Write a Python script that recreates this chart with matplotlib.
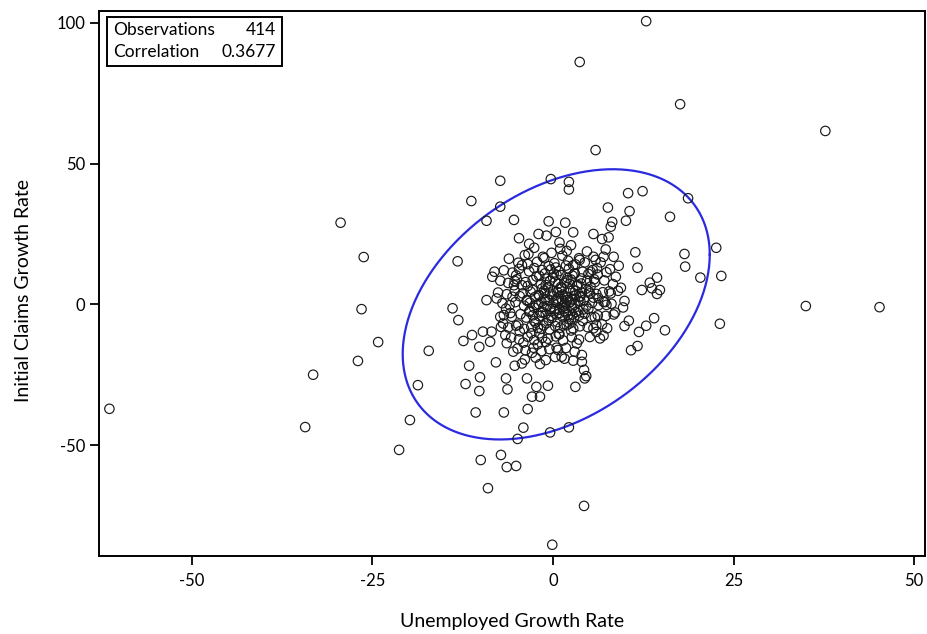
import numpy as np
import matplotlib
matplotlib.use("Agg")
import matplotlib.pyplot as plt

# outlying points and the visible edge of the cloud (unemployed, initial claims)
edge_x = [-61.4, -34.3, -33.2, -29.4, -26.2, -26.5, -24.2, -27.0, -21.3, -19.8,
          -18.7, -17.2, -13.2, -11.3, -7.3, 3.7, 12.9, 5.9, 17.6, 37.7,
          35.0, 45.2, 23.1, 23.3, 22.6, 20.4, 18.7, 4.3, -0.1, -9.0,
          -10.0, -7.2, -6.4, -5.1]
edge_y = [-37.1, -43.6, -25.0, 29.0, 16.8, -1.7, -13.4, -20.1, -51.7, -41.1,
          -28.7, -16.5, 15.3, 36.7, 43.9, 86.1, 100.6, 54.8, 71.1, 61.6,
          -0.6, -1.0, -6.9, 10.1, 20.1, 9.5, 37.7, -71.6, -85.4, -65.3,
          -55.3, -53.5, -57.8, -57.4]

upper_x = [-0.3, 2.2, 2.2, -7.3, -9.2, -5.4, -0.6, 1.7, -4.7, -2.0, -0.9, 0.4,
           2.8, 1.0, -2.6, -3.4, -8.1, -8.4,
           10.4, 12.4, 7.6, 10.6, 10.1, 16.2, 8.2, 8.0, 5.6, 7.7, 6.8, 11.4,
           18.2, 18.3, 11.7, 14.4, 13.4, 12.3, 13.7, 14.8, 14.4, 9.1, 8.4,
           5.6, 7.0]
upper_y = [44.5, 43.5, 40.8, 34.7, 29.7, 30.0, 29.5, 29.0, 23.5, 25.0, 24.4, 25.7,
           25.6, 19.7, 20.1, 17.9, 11.6, 9.8,
           39.5, 40.2, 34.4, 33.1, 29.7, 31.1, 29.3, 27.6, 25.0, 23.8, 23.2, 18.5,
           17.9, 13.4, 13.0, 9.5, 7.7, 5.1, 5.7, 5.1, 3.7, 13.7, 16.9,
           16.9, 16.9]

lower_x = [15.5, 14.0, 12.9, 11.9, 11.7, 10.8, 9.9, 10.5, 9.7, 9.9, 7.0, 5.6,
           7.4, 7.0, 4.0, 4.0, 4.3, 4.6, 4.4, 3.1, 2.2,
           -13.9, -13.1, -11.2, -12.4, -9.7, -8.5, -10.2, -8.7, -11.6, -10.1,
           -12.1, -10.2, -7.9, -6.5, -6.3, -10.7, -6.8, -5.3, -4.3, -3.6, -3.5,
           -2.3, -1.8, -2.9, -0.7, -1.8, -4.1, -4.9, -0.4, -9.2, -7.8, -6.6,
           -6.4, -5.5, -7.3, -6.9]
lower_y = [-9.2, -4.9, -7.6, -9.8, -14.8, -16.3, -7.7, -5.8, -1.1, 1.2, -11.1, -8.5,
           -0.2, 0.9, -18.0, -20.4, -23.3, -25.5, -26.3, -29.3, -43.7,
           -1.4, -5.6, -10.9, -13.0, -9.7, -9.7, -15.1, -13.3, -21.8, -25.9,
           -28.3, -30.8, -20.6, -26.3, -30.2, -38.4, -38.4, -21.8, -21.0, -26.3, -37.2,
           -29.3, -32.8, -32.8, -28.9, -21.2, -43.8, -47.8, -45.5, 1.5, 2.1, -10.9,
           -13.8, -16.8, -4.4, -6.8]

# dense centre of the cloud (rough reading)
core_x = [-6.1, -4.8, -3.9, -2.2, -1.4, 0.2, 1.3, 2.1, 3.6, 4.4, 5.9, -4.3, -0.6, 1.8, 3.1,
          -6.8, -5.6, -4.7, -3.3, -2.6, -1.1, -0.3, 0.8, 2.2, 3.0, 4.1, 5.5, 6.2, 7.4, -5.1,
          -1.9, 0.5, 2.7, 4.9, 6.1,
          -7.3, -6.2, -5.0, -3.8, -2.8, -1.7, -0.9, 0.3, 1.6, 2.5, 3.9, 4.7, 5.8, 7.1, 8.3,
          -5.4, -3.5, -1.0, 1.1, 3.3, 5.2, 2.0, 0.0,
          -7.6, -6.4, -5.3, -4.2, -3.1, -2.0, -1.2, -0.4, 0.6, 1.4, 2.4, 3.2, 4.0, 5.0, 6.0,
          6.9, 8.0, 9.0, -4.6, -2.5, -0.1, 1.9, 3.7, 5.6, 0.9, 2.8, -1.5,
          -7.0, -6.0, -5.2, -4.0, -3.2, -2.3, -1.6, -0.8, 0.1, 0.7, 1.5, 2.3, 3.0, 3.8, 4.6,
          5.4, 6.3, 7.2, 8.1, -3.6, -1.1, 0.4, 1.2, 2.0, 2.7, 3.5, -0.4, 1.7, 4.2, -2.6, 0.9,
          -6.8, -5.7, -4.5, -3.7, -2.8, -1.9, -1.0, -0.2, 0.5, 1.3, 2.1, 2.9, 3.6, 4.4, 5.3,
          6.2, 7.3, 8.4, -3.3, -1.4, 0.2, 1.8, 3.2, -0.6, 2.5,
          -6.2, -5.1, -4.0, -3.0, -2.1, -1.3, -0.5, 0.3, 1.0, 1.9, 2.8, 3.7, 4.8, 6.0, 7.5,
          -2.4, 0.6, 2.3, -4.6,
          -5.8, -4.7, -3.5, -2.6, -1.5, -0.7, 0.4, 1.4, 2.6, 3.6, 5.1, 6.5, -1.9, 0.9,
          -4.9, -3.8, -2.7, -1.6, -0.5, 0.7, 1.8, 3.0, -2.1,
          -3.9, -2.4, -1.0, 0.3, 1.6, 2.8]
core_y = [16.2, 14.8, 17.5, 15.1, 16.9, 14.6, 17.3, 15.5, 16.4, 14.9, 15.8, 13.9, 13.6, 13.8, 14.2,
          12.1, 11.3, 12.6, 11.7, 12.9, 11.0, 12.4, 11.8, 12.7, 10.9, 11.6, 12.2, 10.6, 11.4, 10.3,
          10.1, 10.5, 10.2, 10.8, 12.9,
          8.4, 7.6, 8.9, 7.9, 8.6, 7.3, 9.1, 8.1, 7.7, 8.8, 7.4, 8.3, 7.9, 8.5, 7.2,
          6.8, 6.5, 6.9, 6.2, 6.6, 6.3, 9.4, 9.6,
          4.2, 3.6, 4.8, 3.9, 4.5, 3.4, 4.9, 3.8, 4.4, 3.5, 4.7, 3.3, 4.1, 4.6, 3.7,
          4.3, 3.9, 4.8, 2.9, 2.6, 2.8, 2.5, 2.7, 2.4, 5.4, 5.2, 5.6,
          0.4, -0.3, 0.8, -0.5, 0.6, -0.2, 0.9, -0.6, 0.3, 1.1, -0.4, 0.7, -0.1, 1.0, -0.7,
          0.5, -0.3, 0.8, 0.2, 1.6, 1.8, 1.4, 1.9, 1.5, 1.7, 1.3, -1.6, -1.3, -1.8, -1.2, -1.9,
          -3.8, -4.4, -3.5, -4.7, -3.9, -4.2, -3.4, -4.9, -3.6, -4.3, -3.7, -4.6, -4.0, -3.3, -4.5,
          -3.9, -4.1, -3.6, -2.6, -2.8, -2.4, -2.9, -2.7, -5.6, -5.4,
          -8.2, -7.6, -8.7, -7.9, -8.4, -7.5, -8.9, -7.7, -8.3, -7.4, -8.6, -7.8, -8.1, -7.3, -8.5,
          -6.5, -6.3, -6.8, -9.6,
          -11.8, -12.4, -11.5, -12.7, -11.9, -12.2, -11.4, -12.8, -11.7, -12.5, -11.6, -12.1, -10.3, -10.6,
          -15.7, -16.3, -15.4, -16.6, -15.9, -16.2, -15.5, -16.8, -14.2,
          -19.6, -18.9, -19.8, -18.7, -19.3, -20.0]

# more of the densest part, around (1, 3)
dense_x = [-2.8, -1.9, -0.7, 0.6, 1.2, 2.9, 3.4, 4.3, -1.3, 0.0,
           1.7, 2.6, 3.9, -2.3, -0.4, 1.1, 2.3, 4.6, 5.7, -3.6,
           -1.7, 0.9, 2.2, 3.5, -0.9, 1.5, -2.6, 4.9, 6.3, 5.2,
           -4.3, -3.2, 0.4, 2.8, -1.5, 3.7, 1.9, -0.2, 4.7, 6.6,
           -5.6, -5.9, -4.8, -3.0, -1.0, 0.8, 2.5, 3.3, 5.8, 6.8,
           7.8, 8.7, 7.9, 9.4, 8.6, 1.3, 0.2, -0.6, 2.0, 3.1,
           0.7, -1.1, 1.6, 2.4, -2.0, 3.8, 0.1, 1.9, -0.3, 2.7,
           4.1, -1.6, 0.5, -2.9, 1.2, -4.1, 6.0, -3.5, -5.3, 5.1,
           3.0, -1.2, 0.9, -3.3, 2.5, 7.3, -6.5, -7.2]
dense_y = [5.1, 3.2, 6.1, 2.0, 5.8, 3.0, 6.9, 1.6, -0.9, 4.6,
           0.3, -1.2, 9.2, 9.9, 8.4, 10.4, 7.2, 5.6, 8.9, 1.3,
           -2.9, -3.1, -5.3, -2.2, -6.7, -7.1, -5.9, -1.6, 2.2, 11.6,
           6.8, -2.3, 13.1, 13.9, 12.2, 15.8, 19.0, 18.3, 18.8, 14.9,
           2.7, -3.1, -7.2, -10.3, -13.4, -10.6, -9.3, -13.9, -4.6, -7.1,
           4.6, 9.8, 12.5, 5.9, -2.9, 1.2, -1.7, 1.4, 2.6, 4.8,
           7.3, 4.0, -2.4, 0.9, 0.1, 2.9, 10.9, 8.5, -4.1, -3.6,
           -5.9, -8.7, -15.4, -17.2, -18.6, -13.6, -9.8, 14.3, 8.3, 3.9,
           11.0, 16.4, 22.0, 21.5, 21.0, 19.5, -1.5, -8.0]

n_obs = 414
corr = 0.3677

# prediction ellipse
ell_cx, ell_cy = 0.45, 0.0
ell_hx, ell_hy = 21.25, 48.0

pts_x = np.array(edge_x + upper_x + lower_x + core_x + dense_x)
pts_y = np.array(edge_y + upper_y + lower_y + core_y + dense_y)

plt.rcParams['font.family'] = ['Lato', 'DejaVu Sans']
plt.rcParams['axes.unicode_minus'] = False

fig = plt.figure(figsize=(9.28, 6.34), dpi=100)
ax = fig.add_axes([0.107, 0.123, 0.8898, 0.8596])

ax.scatter(pts_x, pts_y, s=46, facecolors='none', edgecolors='#1a1a1a',
           linewidths=0.85, zorder=3)

t = np.linspace(0, 2 * np.pi, 400)
ex = ell_cx + ell_hx * np.cos(t)
ey = ell_cy + ell_hy * (corr * np.cos(t) + np.sqrt(1 - corr ** 2) * np.sin(t))
ax.plot(ex, ey, color='#2a2ae0', lw=1.6, zorder=2)

ax.set_xlim(-62.8, 51.5)
ax.set_ylim(-89.4, 104.2)
ax.set_xticks([-50, -25, 0, 25, 50])
ax.set_yticks([-50, 0, 50, 100])
ax.tick_params(direction='out', length=6.5, width=1.3, labelsize=12)
ax.tick_params(axis='x', pad=6)
ax.tick_params(axis='y', pad=3.5)
for s in ax.spines.values():
    s.set_linewidth(1.4)

ax.set_xlabel('Unemployed Growth Rate', fontsize=14, labelpad=17)
ax.set_ylabel('Initial Claims Growth Rate', fontsize=14)
ax.yaxis.set_label_coords(-0.081, 0.487)

# inset statistics box
ax.text(0.0166, 0.965, 'Observations', transform=ax.transAxes,
        ha='left', va='center', fontsize=12.5, zorder=5)
ax.text(0.0166, 0.925, 'Correlation', transform=ax.transAxes,
        ha='left', va='center', fontsize=12.5, zorder=5)
ax.text(0.214, 0.965, f'{n_obs}', transform=ax.transAxes,
        ha='right', va='center', fontsize=12.5, zorder=5)
ax.text(0.214, 0.925, f'{corr}', transform=ax.transAxes,
        ha='right', va='center', fontsize=12.5, zorder=5)
ax.add_patch(plt.Rectangle((0.0093, 0.899), 0.212, 0.09, transform=ax.transAxes,
                           fill=False, lw=1.4, ec='black', zorder=5))

fig.savefig('out.png', dpi=100)
